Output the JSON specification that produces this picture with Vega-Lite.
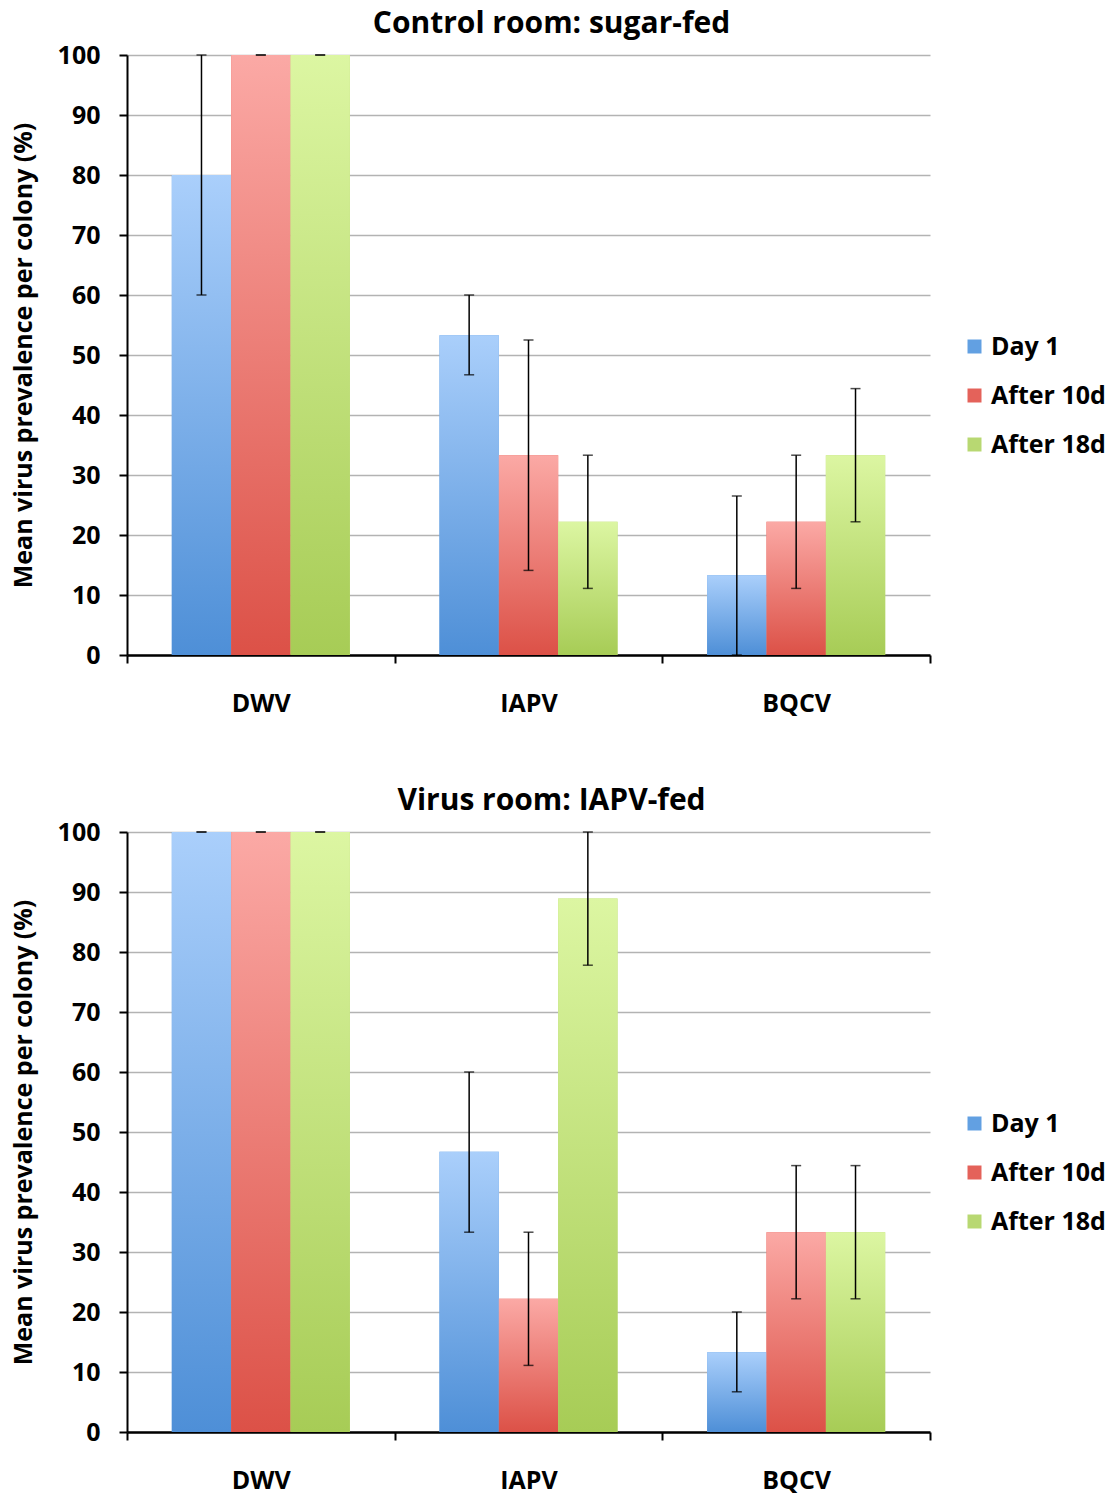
{
  "$schema": "https://vega.github.io/schema/vega-lite/v6.json",
  "padding": {"left": 11, "top": 9, "right": 5, "bottom": 5},
  "background": "white",
  "config": {
    "font": "Open Sans",
    "view": {"stroke": null},
    "title": {"font": "Open Sans", "fontSize": 30, "fontWeight": "bold", "color": "black", "anchor": "middle", "dx": 23, "offset": 4},
    "axis": {
      "labelFont": "Open Sans", "labelFontWeight": "bold", "labelFontSize": 25, "labelColor": "black",
      "titleFont": "Open Sans", "titleFontWeight": "bold", "titleFontSize": 25, "titleColor": "black",
      "domainColor": "black", "domainWidth": 2, "tickColor": "black", "tickWidth": 2, "tickSize": 8
    },
    "legend": {
      "labelFont": "Open Sans", "labelFontWeight": "bold", "labelFontSize": 25, "labelColor": "black",
      "symbolType": "square", "symbolSize": 196, "symbolStrokeWidth": 0, "rowPadding": 23, "labelOffset": 4, "padding": 0
    }
  },
  "data": {
    "values": [
      {"room": "control", "virus": "DWV", "series": "Day 1", "mean": 80, "lo": 60, "hi": 100},
      {"room": "control", "virus": "DWV", "series": "After 10d", "mean": 100, "lo": 100, "hi": 100},
      {"room": "control", "virus": "DWV", "series": "After 18d", "mean": 100, "lo": 100, "hi": 100},
      {"room": "control", "virus": "IAPV", "series": "Day 1", "mean": 53.3, "lo": 46.7, "hi": 60},
      {"room": "control", "virus": "IAPV", "series": "After 10d", "mean": 33.3, "lo": 14.1, "hi": 52.5},
      {"room": "control", "virus": "IAPV", "series": "After 18d", "mean": 22.2, "lo": 11.1, "hi": 33.3},
      {"room": "control", "virus": "BQCV", "series": "Day 1", "mean": 13.3, "lo": 0, "hi": 26.5},
      {"room": "control", "virus": "BQCV", "series": "After 10d", "mean": 22.2, "lo": 11.1, "hi": 33.3},
      {"room": "control", "virus": "BQCV", "series": "After 18d", "mean": 33.3, "lo": 22.2, "hi": 44.4},
      {"room": "virus", "virus": "DWV", "series": "Day 1", "mean": 100, "lo": 100, "hi": 100},
      {"room": "virus", "virus": "DWV", "series": "After 10d", "mean": 100, "lo": 100, "hi": 100},
      {"room": "virus", "virus": "DWV", "series": "After 18d", "mean": 100, "lo": 100, "hi": 100},
      {"room": "virus", "virus": "IAPV", "series": "Day 1", "mean": 46.7, "lo": 33.3, "hi": 60},
      {"room": "virus", "virus": "IAPV", "series": "After 10d", "mean": 22.2, "lo": 11.1, "hi": 33.3},
      {"room": "virus", "virus": "IAPV", "series": "After 18d", "mean": 88.9, "lo": 77.8, "hi": 100},
      {"room": "virus", "virus": "BQCV", "series": "Day 1", "mean": 13.3, "lo": 6.7, "hi": 20},
      {"room": "virus", "virus": "BQCV", "series": "After 10d", "mean": 33.3, "lo": 22.2, "hi": 44.4},
      {"room": "virus", "virus": "BQCV", "series": "After 18d", "mean": 33.3, "lo": 22.2, "hi": 44.4}
    ]
  },
  "spacing": 70,
  "resolve": {"legend": {"color": "independent"}},
  "vconcat": [
    {
      "title": "Control room: sugar-fed",
      "width": 803,
      "height": 600,
      "transform": [{"filter": "datum.room === 'control'"}],
      "encoding": {
        "x": {"field": "virus", "type": "nominal", "sort": ["DWV", "IAPV", "BQCV"],
              "scale": {"paddingInner": 0, "paddingOuter": 0},
              "axis": {"title": null, "labelAngle": 0, "tickBand": "extent", "labelPadding": 28, "domainWidth": 2.5}},
        "xOffset": {"field": "series", "type": "nominal", "sort": ["Day 1", "After 10d", "After 18d"],
                    "scale": {"paddingInner": 0, "paddingOuter": 0.755}}
      },
      "layer": [
        {
          "mark": {"type": "bar"},
          "encoding": {
            "y": {"field": "mean", "type": "quantitative", "scale": {"domain": [0, 100]},
                  "axis": {"title": "Mean virus prevalence per colony (%)", "values": [0, 10, 20, 30, 40, 50, 60, 70, 80, 90, 100],
                           "gridColor": "#b3b3b3", "gridWidth": 1.5, "labelPadding": 19, "titlePadding": 21}},
            "color": {"field": "series", "type": "nominal", "sort": ["Day 1", "After 10d", "After 18d"],
                      "scale": {"domain": ["Day 1", "After 10d", "After 18d"], "range": ["#62a0e2", "#e4625a", "#b8d872"]},
                      "legend": {"title": null, "orient": "none", "legendX": 835, "legendY": 279}}
          }
        },
        {
          "mark": {"type": "bar"},
          "encoding": {
            "y": {"field": "mean", "type": "quantitative", "title": "Mean virus prevalence per colony (%)"},
            "fill": {
              "condition": [
                {"test": "datum.series === 'Day 1'", "value": {"gradient": "linear", "x1": 0, "y1": 0, "x2": 0, "y2": 1, "stops": [{"offset": 0, "color": "#aacffb"}, {"offset": 1, "color": "#4e8fd7"}]}},
                {"test": "datum.series === 'After 10d'", "value": {"gradient": "linear", "x1": 0, "y1": 0, "x2": 0, "y2": 1, "stops": [{"offset": 0, "color": "#fba9a5"}, {"offset": 1, "color": "#dc5147"}]}}
              ],
              "value": {"gradient": "linear", "x1": 0, "y1": 0, "x2": 0, "y2": 1, "stops": [{"offset": 0, "color": "#dcf6a2"}, {"offset": 1, "color": "#a7cc56"}]}
            }
          }
        },
        {
          "mark": {"type": "rule", "color": "black", "strokeWidth": 1.5},
          "encoding": {
            "y": {"field": "lo", "type": "quantitative", "title": "Mean virus prevalence per colony (%)"},
            "y2": {"field": "hi"}
          }
        },
        {
          "mark": {"type": "tick", "color": "black", "size": 10, "thickness": 1.5},
          "encoding": {"y": {"field": "lo", "type": "quantitative", "title": "Mean virus prevalence per colony (%)"}}
        },
        {
          "mark": {"type": "tick", "color": "black", "size": 10, "thickness": 1.5},
          "encoding": {"y": {"field": "hi", "type": "quantitative", "title": "Mean virus prevalence per colony (%)"}}
        }
      ]
    },
    {
      "title": "Virus room: IAPV-fed",
      "width": 803,
      "height": 600,
      "transform": [{"filter": "datum.room === 'virus'"}],
      "encoding": {
        "x": {"field": "virus", "type": "nominal", "sort": ["DWV", "IAPV", "BQCV"],
              "scale": {"paddingInner": 0, "paddingOuter": 0},
              "axis": {"title": null, "labelAngle": 0, "tickBand": "extent", "labelPadding": 28, "domainWidth": 2.5}},
        "xOffset": {"field": "series", "type": "nominal", "sort": ["Day 1", "After 10d", "After 18d"],
                    "scale": {"paddingInner": 0, "paddingOuter": 0.755}}
      },
      "layer": [
        {
          "mark": {"type": "bar"},
          "encoding": {
            "y": {"field": "mean", "type": "quantitative", "scale": {"domain": [0, 100]},
                  "axis": {"title": "Mean virus prevalence per colony (%)", "values": [0, 10, 20, 30, 40, 50, 60, 70, 80, 90, 100],
                           "gridColor": "#b3b3b3", "gridWidth": 1.5, "labelPadding": 19, "titlePadding": 21}},
            "color": {"field": "series", "type": "nominal", "sort": ["Day 1", "After 10d", "After 18d"],
                      "scale": {"domain": ["Day 1", "After 10d", "After 18d"], "range": ["#62a0e2", "#e4625a", "#b8d872"]},
                      "legend": {"title": null, "orient": "none", "legendX": 835, "legendY": 279}}
          }
        },
        {
          "mark": {"type": "bar"},
          "encoding": {
            "y": {"field": "mean", "type": "quantitative", "title": "Mean virus prevalence per colony (%)"},
            "fill": {
              "condition": [
                {"test": "datum.series === 'Day 1'", "value": {"gradient": "linear", "x1": 0, "y1": 0, "x2": 0, "y2": 1, "stops": [{"offset": 0, "color": "#aacffb"}, {"offset": 1, "color": "#4e8fd7"}]}},
                {"test": "datum.series === 'After 10d'", "value": {"gradient": "linear", "x1": 0, "y1": 0, "x2": 0, "y2": 1, "stops": [{"offset": 0, "color": "#fba9a5"}, {"offset": 1, "color": "#dc5147"}]}}
              ],
              "value": {"gradient": "linear", "x1": 0, "y1": 0, "x2": 0, "y2": 1, "stops": [{"offset": 0, "color": "#dcf6a2"}, {"offset": 1, "color": "#a7cc56"}]}
            }
          }
        },
        {
          "mark": {"type": "rule", "color": "black", "strokeWidth": 1.5},
          "encoding": {
            "y": {"field": "lo", "type": "quantitative", "title": "Mean virus prevalence per colony (%)"},
            "y2": {"field": "hi"}
          }
        },
        {
          "mark": {"type": "tick", "color": "black", "size": 10, "thickness": 1.5},
          "encoding": {"y": {"field": "lo", "type": "quantitative", "title": "Mean virus prevalence per colony (%)"}}
        },
        {
          "mark": {"type": "tick", "color": "black", "size": 10, "thickness": 1.5},
          "encoding": {"y": {"field": "hi", "type": "quantitative", "title": "Mean virus prevalence per colony (%)"}}
        }
      ]
    }
  ]
}
